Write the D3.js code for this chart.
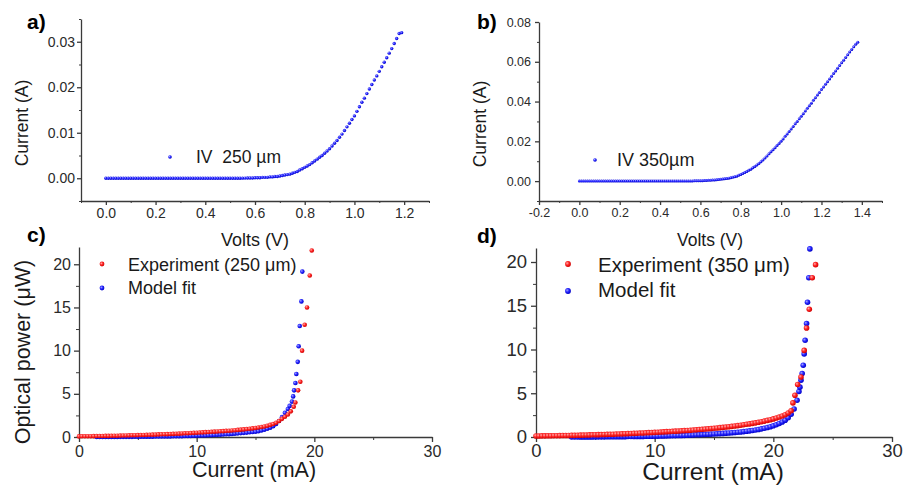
<!DOCTYPE html>
<html>
<head>
<meta charset="utf-8">
<script src="https://cdn.jsdelivr.net/npm/d3@7"></script>
<style>
body { margin: 0; background: #fff; }
text { font-family: "Liberation Sans", Arial, sans-serif; }
</style>
</head>
<body>
<script>
// ---- data ----

// a) IV sweep, 250 um device: 0.00 .. 1.19 V in 0.01 V steps
var ivA_step = 0.01;
var ivA_current = [
  0,0,0,0,0,0,0,0,0,0,
  0,0,0,0,0,0,0,0,0,0,
  0,0,0,0,0,0,0,0,0,0,
  0,0,0,0,0,0,0,0,0,0,
  0,0,0,0,0,0,0,0,0,0,
  0,0,0,0,0.00001,0.00002,0.00003,0.00004,0.00005,0.00006,
  0.0001,0.0001,0.0001,0.0002,0.0002,0.0002,0.0003,0.0003,0.0004,0.0004,
  0.0005,0.0006,0.0007,0.0008,0.0009,0.0011,0.0013,0.0015,0.0018,0.0021,
  0.0024,0.0027,0.0030,0.0034,0.0038,0.0042,0.0046,0.0050,0.0055,0.0060,
  0.0065,0.0071,0.0077,0.0083,0.0090,0.0097,0.0105,0.0113,0.0121,0.0129,
  0.0137,0.0147,0.0157,0.0167,0.0176,0.0186,0.0196,0.0206,0.0216,0.0225,
  0.0235,0.0245,0.0255,0.0265,0.0275,0.0285,0.0296,0.0307,0.0318,0.0320
];

// b) IV sweep, 350 um device: 0.00 .. 1.38 V in 0.01 V steps
var ivB_step = 0.01;
var ivB_current = [
  0,0,0,0,0,0,0,0,0,0,
  0,0,0,0,0,0,0,0,0,0,
  0,0,0,0,0,0,0,0,0,0,
  0,0,0,0,0,0,0,0,0,0,
  0,0,0,0,0,0,0,0,0,0,
  0.00002,0.00003,0.00004,0.00005,0.00006,0.00008,0.0001,0.00012,0.00014,0.00017,
  0.0002,0.0002,0.0003,0.0003,0.0004,0.0004,0.0005,0.0006,0.0007,0.0008,
  0.0009,0.0010,0.0012,0.0013,0.0015,0.0017,0.0019,0.0022,0.0025,0.0029,
  0.0033,0.0038,0.0043,0.0048,0.0054,0.0060,0.0067,0.0074,0.0081,0.0089,
  0.0097,0.0106,0.0116,0.0126,0.0137,0.0148,0.0158,0.0168,0.0179,0.0189,
  0.0200,0.0212,0.0225,0.0237,0.0250,0.0262,0.0275,0.0288,0.0300,0.0313,
  0.0326,0.0339,0.0353,0.0366,0.0379,0.0392,0.0406,0.0419,0.0433,0.0446,
  0.0460,0.0473,0.0487,0.0500,0.0514,0.0527,0.0541,0.0554,0.0568,0.0581,
  0.0595,0.0608,0.0622,0.0635,0.0649,0.0662,0.0675,0.0688,0.0698
];

// c) optical power vs current, 250 um
// dense part on a 0.25 mA grid
var cExp_start = 0, cExp_step = 0.25;
var cExp_power = [
  0.07,0.08,0.08,0.09,0.09,0.10,0.11,0.11,0.12,
  0.13,0.13,0.14,0.15,0.15,0.16,0.17,0.18,
  0.19,0.20,0.21,0.22,0.23,0.24,0.25,0.26,
  0.27,0.28,0.30,0.31,0.32,0.33,0.35,0.36,
  0.38,0.39,0.41,0.43,0.44,0.46,0.48,0.50,
  0.52,0.54,0.56,0.58,0.60,0.62,0.64,0.66,
  0.68,0.71,0.73,0.76,0.79,0.82,0.85,0.88,
  0.92,0.96,1.00,1.05,
  1.10,1.16,1.22,1.30,
  1.40,1.50,1.65,1.85,
  2.10,2.35,2.60,2.97,3.50
];
var cExpTail_mA = [18.39, 18.62, 18.81, 18.96, 19.18, 19.38, 19.61, 19.78];
var cExpTail_uW = [4.0, 5.4, 6.4, 10.0, 13.0, 15.0, 18.7, 21.6];

var cFit_start = 1.5, cFit_step = 0.25;
var cFit_power = [
  0.00,0.00,0.00,0.01,0.01,0.01,0.01,0.01,0.02,
  0.02,0.02,0.02,0.02,0.03,0.03,0.03,0.03,0.04,
  0.04,0.04,0.05,0.05,0.06,0.06,0.07,0.07,0.08,
  0.09,0.09,0.10,0.11,0.12,0.13,0.14,0.15,
  0.16,0.17,0.18,0.20,0.21,0.23,0.25,0.27,
  0.29,0.31,0.33,0.36,0.39,0.42,0.45,0.48,
  0.51,0.55,0.58,0.62,0.68,0.76,0.85,0.95,
  1.08,1.25,1.50,1.85,2.30,2.80,3.25
];
var cFitTail_mA = [17.9, 18.1, 18.2, 18.28, 18.39, 18.47, 18.59, 18.67, 18.76, 18.9, 18.98];
var cFitTail_uW = [3.6, 4.1, 4.7, 5.4, 6.25, 7.3, 8.7, 10.5, 12.85, 15.7, 19.15];

// d) optical power vs current, 350 um
var dExp_start = 0, dExp_step = 0.25;
var dExp_power = [
  0.12,0.12,0.13,0.13,0.14,0.14,0.15,0.15,0.16,
  0.17,0.17,0.18,0.19,0.19,0.20,0.21,0.22,
  0.23,0.24,0.25,0.26,0.27,0.28,0.29,0.30,
  0.31,0.32,0.34,0.35,0.36,0.38,0.39,0.40,
  0.42,0.43,0.45,0.46,0.48,0.50,0.51,0.53,
  0.55,0.57,0.59,0.61,0.63,0.65,0.67,0.69,
  0.71,0.73,0.75,0.78,0.80,0.83,0.85,0.88,
  0.91,0.94,0.97,1.00,1.03,1.07,1.10,1.14,
  1.18,1.22,1.26,1.30,1.35,1.40,1.45,1.50,
  1.56,1.62,1.68,1.75,1.82,1.90,1.98,2.07,
  2.17,2.28,2.40,2.55,2.75,3.00
];
var dExpTail_mA = [21.65, 21.82, 22.05, 22.33, 22.6, 22.8, 23.03, 23.28, 23.56];
var dExpTail_uW = [3.9, 4.77, 6.0, 6.86, 9.9, 12.46, 14.6, 18.2, 19.7];

var dFit_start = 3, dFit_step = 0.25;
var dFit_power = [
  0.00,0.00,0.00,0.01,0.01,0.01,0.01,0.01,0.02,
  0.02,0.02,0.02,0.03,0.03,0.03,0.03,0.04,
  0.04,0.04,0.05,0.05,0.06,0.06,0.07,0.07,
  0.08,0.08,0.09,0.10,0.10,0.11,0.12,0.13,
  0.14,0.15,0.16,0.17,0.18,0.19,0.20,0.22,
  0.23,0.25,0.26,0.28,0.30,0.31,0.33,0.35,
  0.37,0.39,0.41,0.44,0.46,0.49,0.52,0.55,
  0.58,0.62,0.66,0.70,0.75,0.80,0.86,0.93,
  1.00,1.08,1.17,1.28,1.40,1.55,1.72,1.92,
  2.20,2.60,3.20,4.20
];
var dFitTail_mA = [22.16, 22.24, 22.33, 22.43, 22.52, 22.6, 22.68, 22.8, 22.88, 22.99, 23.08];
var dFitTail_uW = [5.2, 5.7, 6.5, 7.25, 8.2, 9.5, 11.05, 12.96, 15.4, 18.2, 21.5];

// ticks
var ivA_xTicks = [0, 0.2, 0.4, 0.6, 0.8, 1.0, 1.2];
var ivA_xMinor = [-0.1, 0.1, 0.3, 0.5, 0.7, 0.9, 1.1, 1.3];
var ivA_yTicks = [0, 0.01, 0.02, 0.03];
var ivA_yMinor = [-0.005, 0.005, 0.015, 0.025, 0.035];
var ivB_xTicks = [-0.2, 0, 0.2, 0.4, 0.6, 0.8, 1.0, 1.2, 1.4];
var ivB_xMinor = [-0.1, 0.1, 0.3, 0.5, 0.7, 0.9, 1.1, 1.3, 1.5];
var ivB_yTicks = [0, 0.02, 0.04, 0.06, 0.08];
var ivB_yMinor = [-0.01, 0.01, 0.03, 0.05, 0.07];
var pow_xTicks = [0, 10, 20, 30];
var pow_xMinor = [5, 15, 25];
var pow_yTicks = [0, 5, 10, 15, 20];
var pow_yMinor = [2.5, 7.5, 12.5, 17.5];

// ---- helpers ----
function sweep(start, step, vals) {
  return vals.map(function(v, i) { return [start + i * step, v]; });
}
function pairs(xs, ys) {
  return xs.map(function(x, i) { return [x, ys[i]]; });
}

var W = 905, H = 488;
var svg = d3.select("body").append("svg").attr("width", W).attr("height", H);

var defs = svg.append("defs");
function ball(id, hi, mid, lo) {
  var gr = defs.append("radialGradient").attr("id", id)
    .attr("cx", "40%").attr("cy", "40%").attr("r", "60%").attr("fx", "35%").attr("fy", "35%");
  gr.append("stop").attr("offset", "0%").attr("stop-color", hi);
  gr.append("stop").attr("offset", "50%").attr("stop-color", mid);
  gr.append("stop").attr("offset", "100%").attr("stop-color", lo);
}
ball("gBlue", "#a8a8ff", "#2828ff", "#0000c8");
ball("gRed", "#ffb0b0", "#ff2828", "#d00000");
defs.append("clipPath").attr("id", "clipD")
  .append("rect").attr("x", 440).attr("y", 247).attr("width", 80).attr("height", 241);

var axisColor = "#3a3a3a";

function panel(p) {
  var x = d3.scaleLinear().domain(p.xd).range([p.l, p.r]);
  var y = d3.scaleLinear().domain(p.yd).range([p.b, p.t]);
  var g = svg.append("g");

  // minor ticks
  g.append("g").attr("transform", "translate(0," + p.b + ")")
    .call(d3.axisBottom(x).tickValues(p.xMinor).tickSize(p.minor).tickFormat(""))
    .call(function(s) { s.select(".domain").remove(); })
    .attr("color", axisColor);
  g.append("g").attr("transform", "translate(" + p.l + ",0)")
    .call(d3.axisLeft(y).tickValues(p.yMinor).tickSize(p.minor).tickFormat(""))
    .call(function(s) { s.select(".domain").remove(); })
    .attr("color", axisColor);

  // major ticks + lines
  var xa = g.append("g").attr("transform", "translate(0," + p.b + ")")
    .call(d3.axisBottom(x).tickValues(p.xTicks).tickSize(p.major).tickSizeOuter(0)
      .tickPadding(p.xPad).tickFormat(p.fmtX));
  var ya = g.append("g").attr("transform", "translate(" + p.l + ",0)")
    .call(d3.axisLeft(y).tickValues(p.yTicks).tickSize(p.major).tickSizeOuter(0)
      .tickPadding(p.yPad).tickFormat(p.fmtY));
  [xa, ya].forEach(function(a) {
    a.attr("color", axisColor)
      .attr("font-size", p.tickFont)
      .attr("font-family", "'Liberation Sans', Arial, sans-serif");
    a.selectAll("path, line").attr("stroke-width", 1.3);
    a.selectAll("text").attr("fill", "#2a2a2a");
  });

  // series
  p.series.forEach(function(s) {
    g.append("g").selectAll("circle")
      .data(s.pts)
      .join("circle")
      .attr("cx", function(d) { return x(d[0]); })
      .attr("cy", function(d) { return y(d[1]); })
      .attr("r", s.r)
      .attr("fill", s.fill);
  });
  return g;
}

function label(txt, x, y, size, opts) {
  opts = opts || {};
  var t = svg.append("text").attr("font-size", size).attr("fill", opts.fill || "#1a1a1a")
    .attr("text-anchor", opts.anchor || "start")
    .attr("font-weight", opts.bold ? "bold" : null)
    .attr("transform", "translate(" + x + "," + y + ")" + (opts.rot ? " rotate(-90)" : ""))
    .text(txt);
  if (opts.clip) t.attr("clip-path", "url(#" + opts.clip + ")");
  return t;
}
function dot(cx, cy, r, fill) {
  svg.append("circle").attr("cx", cx).attr("cy", cy).attr("r", r).attr("fill", fill);
}

var f1 = function(d) { return d.toFixed(1); };
var f2 = function(d) { return d.toFixed(2); };
var f0 = function(d) { return String(d); };

// a)
panel({
  l: 81, r: 429, t: 19, b: 201, xd: [-0.1, 1.3], yd: [-0.005, 0.035],
  xTicks: ivA_xTicks, xMinor: ivA_xMinor, yTicks: ivA_yTicks, yMinor: ivA_yMinor,
  major: 4, minor: 2, xPad: 3, yPad: 2, tickFont: 14, fmtX: f1, fmtY: f2,
  series: [{ pts: sweep(0, ivA_step, ivA_current), r: 1.7, fill: "url(#gBlue)" }]
});
label("a)", 27, 29, 21, { bold: true, fill: "#000" });
label("Current (A)", 28, 123, 17.5, { rot: true, anchor: "middle" });
label("Volts (V)", 255, 246, 18, { anchor: "middle" });
dot(170, 157, 1.8, "url(#gBlue)");
label("IV\u00a0 250 \u00b5m", 196, 163, 17.5);

// b)
panel({
  l: 539, r: 882, t: 22, b: 201, xd: [-0.2, 1.5], yd: [-0.01, 0.08],
  xTicks: ivB_xTicks, xMinor: ivB_xMinor, yTicks: ivB_yTicks, yMinor: ivB_yMinor,
  major: 4, minor: 2, xPad: 3, yPad: 4, tickFont: 12.5, fmtX: f1, fmtY: f2,
  series: [{ pts: sweep(0, ivB_step, ivB_current), r: 1.5, fill: "url(#gBlue)" }]
});
label("b)", 477, 29, 21, { bold: true, fill: "#000" });
label("Current (A)", 486, 124, 17.5, { rot: true, anchor: "middle" });
label("Volts (V)", 710, 246, 17.5, { anchor: "middle" });
dot(595, 160, 1.8, "url(#gBlue)");
label("IV 350\u00b5m", 617, 166, 18);

// c)
panel({
  l: 79, r: 432, t: 247, b: 437, xd: [0, 30], yd: [0, 22],
  xTicks: pow_xTicks, xMinor: pow_xMinor, yTicks: pow_yTicks, yMinor: pow_yMinor,
  major: 5, minor: 3, xPad: 4, yPad: 3, tickFont: 16, fmtX: f0, fmtY: f0,
  series: [
    { pts: sweep(cFit_start, cFit_step, cFit_power).concat(pairs(cFitTail_mA, cFitTail_uW)), r: 2.3, fill: "url(#gBlue)" },
    { pts: sweep(cExp_start, cExp_step, cExp_power).concat(pairs(cExpTail_mA, cExpTail_uW)), r: 2.3, fill: "url(#gRed)" }
  ]
});
label("c)", 27, 242, 21, { bold: true, fill: "#000" });
label("Optical power (\u03bcW)", 30, 352, 21.5, { rot: true, anchor: "middle" });
label("Current (mA)", 254, 477, 21.5, { anchor: "middle" });
dot(102, 264, 2.4, "url(#gRed)");
label("Experiment (250 \u03bcm)", 128, 271, 18);
dot(102, 288, 2.4, "url(#gBlue)");
label("Model fit", 128, 294, 18);

// d)
panel({
  l: 536, r: 892, t: 248, b: 437, xd: [0, 30], yd: [0, 21.6],
  xTicks: pow_xTicks, xMinor: pow_xMinor, yTicks: pow_yTicks, yMinor: pow_yMinor,
  major: 5, minor: 3, xPad: 2, yPad: 4, tickFont: 18.5, fmtX: f0, fmtY: f0,
  series: [
    { pts: sweep(dFit_start, dFit_step, dFit_power).concat(pairs(dFitTail_mA, dFitTail_uW)), r: 2.8, fill: "url(#gBlue)" },
    { pts: sweep(dExp_start, dExp_step, dExp_power).concat(pairs(dExpTail_mA, dExpTail_uW)), r: 2.8, fill: "url(#gRed)" }
  ]
});
label("d)", 477, 243, 21, { bold: true, fill: "#000" });
label("Optical power (\u03bcW)", 481, 453, 24.5, { rot: true, clip: "clipD" });
label("Current (mA)", 713, 480, 24.5, { anchor: "middle" });
dot(568, 264, 2.9, "url(#gRed)");
label("Experiment (350 \u03bcm)", 598, 272, 20.5);
dot(568, 291, 2.9, "url(#gBlue)");
label("Model fit", 598, 297, 20.5);
</script>
</body>
</html>
